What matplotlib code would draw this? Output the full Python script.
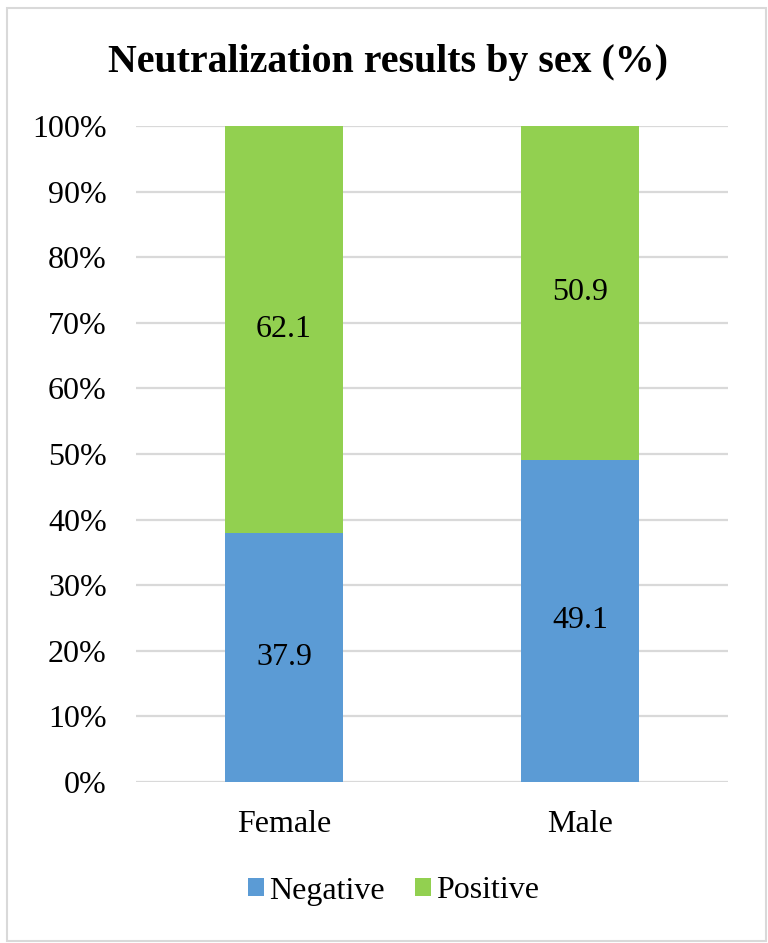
import matplotlib.pyplot as plt
from matplotlib.patches import Rectangle
from matplotlib.ticker import PercentFormatter

plt.rcParams['font.family'] = ['Liberation Serif', 'DejaVu Serif']

# Data
categories = ['Female', 'Male']
negative = [37.9, 49.1]
positive = [62.1, 50.9]

blue = '#5B9BD5'
green = '#92D050'

fig = plt.figure(figsize=(7.68, 9.43), dpi=100)
ax = fig.add_axes([136 / 768, 1 - 782 / 943, 592 / 768, 656 / 943])

x = range(len(categories))
ax.bar(x, negative, width=0.4, color=blue, label='Negative', zorder=3)
ax.bar(x, positive, width=0.4, bottom=negative, color=green, label='Positive', zorder=3)

for i in x:
    ax.text(i, negative[i] / 2, f'{negative[i]:.1f}', ha='center', va='center', fontsize=23, zorder=4)
    ax.text(i, negative[i] + positive[i] / 2, f'{positive[i]:.1f}', ha='center', va='center', fontsize=23, zorder=4)

ax.set_xlim(-0.5, 1.5)
ax.set_ylim(0, 100)
ax.set_yticks(range(0, 101, 10))
ax.yaxis.set_major_formatter(PercentFormatter(decimals=0))
ax.set_xticks(list(x))
ax.set_xticklabels(categories)
ax.tick_params(axis='both', length=0, labelsize=23)
ax.tick_params(axis='y', pad=21)
ax.tick_params(axis='x', pad=20)
ax.grid(axis='y', color='#D9D9D9', linewidth=1.6, zorder=0)
for s in ax.spines.values():
    s.set_visible(False)

fig.text(387.5 / 768, 1 - 72 / 943, 'Neutralization results by sex (%)', ha='center', va='baseline',
         fontsize=28.7, fontweight='bold')

fig.legend(loc='center', bbox_to_anchor=(393.5 / 768, 1 - 891 / 943), ncol=2, frameon=False,
           fontsize=23, handlelength=0.5, handleheight=0.5, handletextpad=0.15, columnspacing=0.95,
           borderpad=0)

# outer chart border
fig.patches.append(Rectangle((7 / 768, 2 / 943), 759 / 768, 933 / 943, transform=fig.transFigure,
                             fill=False, edgecolor='#D9D9D9', linewidth=1.5))

fig.savefig('out.png', dpi=100)
